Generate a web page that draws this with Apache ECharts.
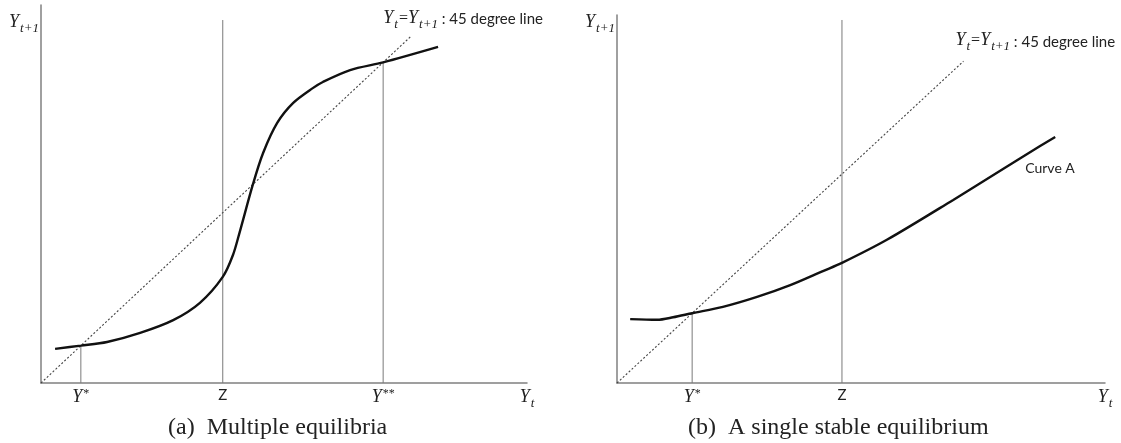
<!DOCTYPE html>
<html><head><meta charset="utf-8">
<script src="https://cdn.jsdelivr.net/npm/echarts@6/dist/echarts.min.js"></script>
<style>html,body{margin:0;padding:0;background:#fff}#c{width:1121px;height:443px}</style>
</head><body><div id="c"></div>
<script>
// ---- Panel (a): multiple equilibria ----
const curveA_x = [2.9, 8.2, 13.6, 20.4, 27.2, 32.7, 37.4, 39.5, 40.9, 43.6, 45.7, 48.6, 51.9, 56.0, 58.0, 63.6, 70.4, 81.7];
const curveA_y = [7.5, 8.2, 9.0, 11.0, 13.8, 17.6, 23.3, 28.1, 33.2, 43.6, 50.5, 57.1, 61.5, 64.8, 66.1, 68.7, 70.4, 73.8];
const diagA_end = 76;
const tickValsA = [8.2, 37.4, 70.4, 100];
const tickLabelsA = ['{i|Y}{sup|*}', '{z|Z}', '{i|Y}{sup|**}', '{i|Y}{sub|t}'];
const refLinesA = [[8.2, 8.2], [37.4, 79.7], [70.4, 70.4]]; // [x, top]
const captionA = '(a)  Multiple equilibria';

// ---- Panel (b): single stable equilibrium ----
const curveB_x = [2.7, 8.2, 11.5, 15.4, 21.7, 28.7, 35.5, 42.2, 46.1, 55.3, 68.9, 79.1, 86.7, 89.8];
const curveB_y = [14.1, 13.95, 14.5, 15.4, 16.8, 19.0, 21.6, 24.7, 26.5, 31.6, 40.4, 47.2, 52.3, 54.3];
const diagB_end = 71;
const tickValsB = [15.4, 46.1, 100];
const tickLabelsB = ['{i|Y}{sup|*}', '{z|Z}', '{i|Y}{sub|t}'];
const refLinesB = [[15.4, 15.4], [46.1, 80.1]];
const captionB = '(b)  A single stable equilibrium';
const curveBName = 'Curve A';

const yName = '{i|Y}{sub|t+1}';
const diagLabel = '{i|Y}{sub|t}{eq|=}{i|Y}{sub|t+1}{txt| : 45 degree line}';

const MATH = 'Liberation Serif';
const SANS = 'Lato';
const rich = {
  i: {fontFamily: MATH, fontStyle: 'italic', fontSize: 18, color: '#222', verticalAlign: 'bottom', padding: [0, 1, 4, 0]},
  sub: {fontFamily: MATH, fontStyle: 'italic', fontSize: 13, color: '#222', verticalAlign: 'bottom'},
  sup: {fontFamily: MATH, fontSize: 12, color: '#222', verticalAlign: 'top'},
  eq: {fontFamily: MATH, fontSize: 16, color: '#222', verticalAlign: 'bottom', padding: [0, 0, 4, 1]},
  txt: {fontFamily: SANS, fontSize: 15, color: '#222', verticalAlign: 'bottom', padding: [0, 0, 4, 0]},
  z: {fontFamily: SANS, fontSize: 15, color: '#222'}
};

function xAxisFor(gi, vals, labels) {
  return {
    type: 'value', gridIndex: gi, min: 0, max: 100,
    axisLine: {show: true, lineStyle: {color: '#808080', width: 1.5}},
    axisTick: {show: false}, splitLine: {show: false},
    axisLabel: {
      show: true, customValues: vals, margin: 5, rich: rich,
      formatter: v => labels[vals.indexOf(v)] || ''
    }
  };
}
function yAxisFor(gi, max, gap) {
  return {
    type: 'value', gridIndex: gi, min: 0, max: max,
    axisLine: {show: true, lineStyle: {color: '#808080', width: 1.5}},
    axisTick: {show: false}, splitLine: {show: false}, axisLabel: {show: false},
    name: yName, nameLocation: 'end', nameGap: gap,
    nameTextStyle: {align: 'right', verticalAlign: 'top', padding: [0, 2, 0, 0], rich: rich}
  };
}
function refSeries(gi, lines) {
  return lines.map(l => ({
    type: 'line', xAxisIndex: gi, yAxisIndex: gi, symbol: 'none', silent: true,
    lineStyle: {color: '#7a7a7a', width: 1},
    data: [[l[0], 0], [l[0], l[1]]]
  }));
}
function diagSeries(gi, end, off) {
  return {
    type: 'line', xAxisIndex: gi, yAxisIndex: gi, symbolSize: 0, showSymbol: true, silent: true,
    lineStyle: {color: '#444', width: 1.1, type: [2, 2]},
    data: [[0, 0], {value: [end, end], label: {show: true, position: off, align: 'left', verticalAlign: 'middle', formatter: diagLabel, rich: rich}}]
  };
}
function curveSeries(gi, xs, ys, lastLabel) {
  const data = xs.map((x, k) => [x, ys[k]]);
  if (lastLabel) {
    const n = data.length - 1;
    data[n] = {value: data[n], label: lastLabel};
  }
  return {
    type: 'line', xAxisIndex: gi, yAxisIndex: gi, smooth: 0.3, symbolSize: 0, showSymbol: true, silent: true,
    lineStyle: {color: '#111', width: 2.4},
    data: data
  };
}

const capStyle = {fontFamily: 'Liberation Serif', fontWeight: 'normal', fontSize: 24, color: '#222'};
const option = {
  animation: false,
  backgroundColor: '#fff',
  title: [
    {text: captionA, left: 168, top: 416, padding: 0, textStyle: capStyle},
    {text: captionB, left: 688, top: 416, padding: 0, textStyle: capStyle}
  ],
  grid: [
    {left: 41, top: 5, width: 486, height: 378},
    {left: 617, top: 15, width: 488, height: 368}
  ],
  xAxis: [xAxisFor(0, tickValsA, tickLabelsA), xAxisFor(1, tickValsB, tickLabelsB)],
  yAxis: [yAxisFor(0, 83, -8), yAxisFor(1, 81.2, 2)],
  series: [
    ...refSeries(0, refLinesA),
    diagSeries(0, diagA_end, [-27, -17]),
    curveSeries(0, curveA_x, curveA_y, null),
    ...refSeries(1, refLinesB),
    diagSeries(1, diagB_end, [-8, -19]),
    curveSeries(1, curveB_x, curveB_y, {show: true, position: [-30, 32], align: 'left', verticalAlign: 'middle', formatter: curveBName, fontFamily: SANS, fontSize: 14, color: '#222'})
  ]
};
const chart = echarts.init(document.getElementById('c'), null, {renderer: 'canvas'});
chart.setOption(option);
</script>
</body></html>
